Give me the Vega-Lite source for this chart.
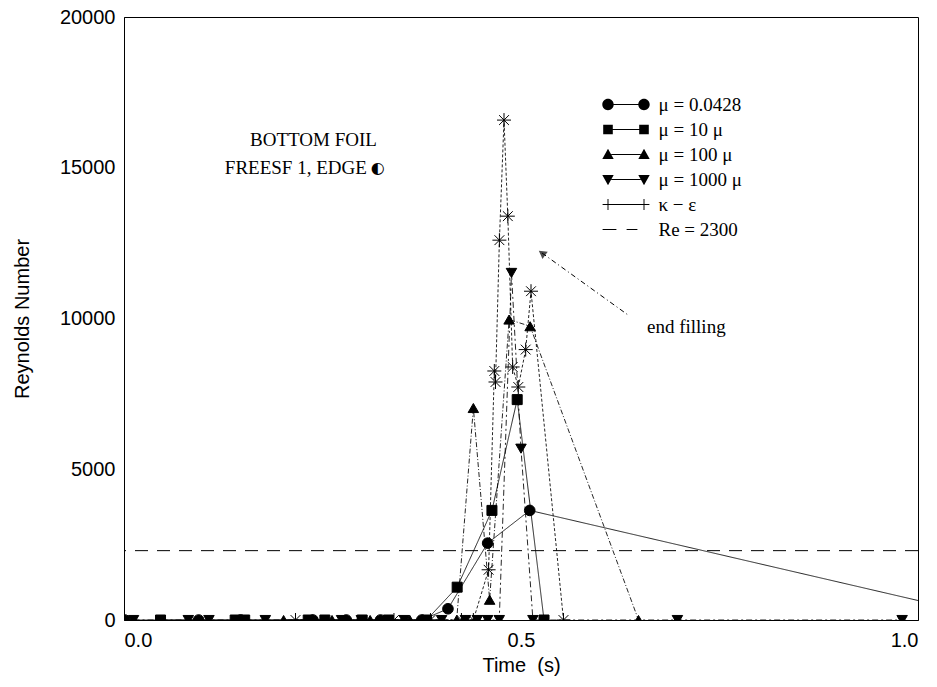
{
  "$schema": "https://vega.github.io/schema/vega-lite/v6.json",
  "width": 794,
  "height": 603,
  "autosize": {"type": "none"},
  "padding": {"left": 124, "top": 17, "right": 19, "bottom": 67},
  "background": "white",
  "config": {
    "view": {"stroke": "black", "strokeWidth": 1},
    "axis": {"grid": false, "domainColor": "black", "domainWidth": 1, "labelFont": "Liberation Sans", "labelFontSize": 20, "labelColor": "black", "titleFont": "Liberation Sans", "titleFontSize": 20, "titleFontWeight": "normal", "titleColor": "black", "ticks": false}
  },
  "resolve": {"scale": {"shape": "independent", "size": "independent"}, "legend": {"shape": "independent"}},
  "datasets": {
    "curves": [
      {"t": 0.001, "Re": 0, "series": "μ = 0.0428"},
      {"t": 0.094, "Re": 0, "series": "μ = 0.0428"},
      {"t": 0.147, "Re": 0, "series": "μ = 0.0428"},
      {"t": 0.238, "Re": 0, "series": "μ = 0.0428"},
      {"t": 0.28, "Re": 0, "series": "μ = 0.0428"},
      {"t": 0.323, "Re": 0, "series": "μ = 0.0428"},
      {"t": 0.375, "Re": 0, "series": "μ = 0.0428"},
      {"t": 0.408, "Re": 372, "series": "μ = 0.0428"},
      {"t": 0.458, "Re": 2549, "series": "μ = 0.0428"},
      {"t": 0.511, "Re": 3635, "series": "μ = 0.0428"},
      {"t": 1.05, "Re": 341, "series": "μ = 0.0428"},
      {"t": 0.046, "Re": 0, "series": "μ = 10 μ"},
      {"t": 0.14, "Re": 0, "series": "μ = 10 μ"},
      {"t": 0.152, "Re": 0, "series": "μ = 10 μ"},
      {"t": 0.232, "Re": 0, "series": "μ = 10 μ"},
      {"t": 0.253, "Re": 0, "series": "μ = 10 μ"},
      {"t": 0.3, "Re": 0, "series": "μ = 10 μ"},
      {"t": 0.333, "Re": 0, "series": "μ = 10 μ"},
      {"t": 0.381, "Re": 0, "series": "μ = 10 μ"},
      {"t": 0.4196, "Re": 1089, "series": "μ = 10 μ"},
      {"t": 0.4634, "Re": 3635, "series": "μ = 10 μ"},
      {"t": 0.4952, "Re": 7310, "series": "μ = 10 μ"},
      {"t": 0.529, "Re": 0, "series": "μ = 10 μ"},
      {"t": 0.201, "Re": 0, "series": "μ = 100 μ"},
      {"t": 0.262, "Re": 0, "series": "μ = 100 μ"},
      {"t": 0.31, "Re": 0, "series": "μ = 100 μ"},
      {"t": 0.36, "Re": 0, "series": "μ = 100 μ"},
      {"t": 0.4, "Re": 0, "series": "μ = 100 μ"},
      {"t": 0.419, "Re": 0, "series": "μ = 100 μ"},
      {"t": 0.44, "Re": 7031, "series": "μ = 100 μ"},
      {"t": 0.4605, "Re": 671, "series": "μ = 100 μ"},
      {"t": 0.485, "Re": 9965, "series": "μ = 100 μ"},
      {"t": 0.5115, "Re": 9743, "series": "μ = 100 μ"},
      {"t": 0.648, "Re": 0, "series": "μ = 100 μ"},
      {"t": 0.012, "Re": 0, "series": "μ = 1000 μ"},
      {"t": 0.081, "Re": 0, "series": "μ = 1000 μ"},
      {"t": 0.107, "Re": 0, "series": "μ = 1000 μ"},
      {"t": 0.178, "Re": 0, "series": "μ = 1000 μ"},
      {"t": 0.274, "Re": 0, "series": "μ = 1000 μ"},
      {"t": 0.299, "Re": 0, "series": "μ = 1000 μ"},
      {"t": 0.353, "Re": 0, "series": "μ = 1000 μ"},
      {"t": 0.4, "Re": 0, "series": "μ = 1000 μ"},
      {"t": 0.43, "Re": 0, "series": "μ = 1000 μ"},
      {"t": 0.445, "Re": 0, "series": "μ = 1000 μ"},
      {"t": 0.458, "Re": 0, "series": "μ = 1000 μ"},
      {"t": 0.4726, "Re": 0, "series": "μ = 1000 μ"},
      {"t": 0.488, "Re": 11512, "series": "μ = 1000 μ"},
      {"t": 0.5, "Re": 5683, "series": "μ = 1000 μ"},
      {"t": 0.515, "Re": 0, "series": "μ = 1000 μ"},
      {"t": 0.697, "Re": 0, "series": "μ = 1000 μ"},
      {"t": 0.98, "Re": 0, "series": "μ = 1000 μ"},
      {"t": 0.216, "Re": 0, "series": "κ − ε"},
      {"t": 0.34, "Re": 0, "series": "κ − ε"},
      {"t": 0.386, "Re": 0, "series": "κ − ε"},
      {"t": 0.425, "Re": 0, "series": "κ − ε"},
      {"t": 0.44, "Re": 0, "series": "κ − ε"},
      {"t": 0.4592, "Re": 1666, "series": "κ − ε"},
      {"t": 0.4664, "Re": 8259, "series": "κ − ε"},
      {"t": 0.4679, "Re": 7894, "series": "κ − ε"},
      {"t": 0.4728, "Re": 12598, "series": "κ − ε"},
      {"t": 0.4786, "Re": 16581, "series": "κ − ε"},
      {"t": 0.4834, "Re": 13394, "series": "κ − ε"},
      {"t": 0.4895, "Re": 8392, "series": "κ − ε"},
      {"t": 0.4966, "Re": 7728, "series": "κ − ε"},
      {"t": 0.5059, "Re": 8969, "series": "κ − ε"},
      {"t": 0.5126, "Re": 10905, "series": "κ − ε"},
      {"t": 0.5535, "Re": 0, "series": "κ − ε"}
    ]
  },
  "layer": [
    {
      "data": {"values": [{}]},
      "mark": {"type": "rule", "color": "black", "strokeWidth": 1, "strokeDash": [13, 9]},
      "encoding": {"y": {"datum": 2300, "type": "quantitative"}}
    },
    {
      "data": {"name": "curves"},
      "mark": {"type": "line", "color": "black", "strokeWidth": 1, "opacity": 0.85, "clip": true},
      "encoding": {
        "x": {"field": "t", "type": "quantitative", "scale": {"domain": [0, 1], "nice": false}, "axis": {"values": [0, 0.5, 1], "format": ".1f", "labelPadding": 10, "title": "Time\u00a0\u00a0(s)", "titlePadding": 5}},
        "y": {"field": "Re", "type": "quantitative", "scale": {"domain": [0, 20000], "nice": false}, "axis": {"values": [0, 5000, 10000, 15000, 20000], "format": "d", "labelPadding": 9, "title": "Reynolds Number", "titlePadding": 27}},
        "detail": {"field": "series", "type": "nominal"},
        "strokeDash": {"field": "series", "type": "nominal", "legend": null, "scale": {"domain": ["μ = 0.0428", "μ = 10 μ", "μ = 100 μ", "μ = 1000 μ", "κ − ε"], "range": [[1, 0], [1, 0], [5, 2, 1, 2], [6, 3, 2, 3], [3, 2]]}}
      }
    },
    {
      "data": {"name": "curves"},
      "mark": {"type": "point", "filled": true, "color": "black", "stroke": "black", "strokeWidth": 1, "opacity": 1, "clip": true},
      "encoding": {
        "x": {"field": "t", "type": "quantitative"},
        "y": {"field": "Re", "type": "quantitative"},
        "size": {"field": "series", "type": "nominal", "legend": null, "scale": {"type": "ordinal", "domain": ["μ = 0.0428", "μ = 10 μ", "μ = 100 μ", "μ = 1000 μ", "κ − ε"], "range": [113, 100, 110, 110, 196]}},
        "shape": {
          "field": "series", "type": "nominal", "legend": null,
          "scale": {"domain": ["μ = 0.0428", "μ = 10 μ", "μ = 100 μ", "μ = 1000 μ", "κ − ε"], "range": ["circle", "square", "triangle-up", "triangle-down", "M-1,0H1M0,-1V1M-0.7,-0.7L0.7,0.7M-0.7,0.7L0.7,-0.7"]}
        }
      }
    },
    {
      "data": {"name": "curves"},
      "transform": [{"filter": "false"}],
      "mark": {"type": "point", "filled": true, "color": "black"},
      "encoding": {
        "x": {"field": "t", "type": "quantitative"},
        "y": {"field": "Re", "type": "quantitative"},
        "shape": {
          "field": "series", "type": "nominal",
          "scale": {"domain": ["μ = 0.0428", "μ = 10 μ", "μ = 100 μ", "μ = 1000 μ", "κ − ε", "Re = 2300"], "range": [
            "M-3.95,0A0.95,0.95 0 1,0 -2.05,0A0.95,0.95 0 1,0 -3.95,0Z M2.05,0A0.95,0.95 0 1,0 3.95,0A0.95,0.95 0 1,0 2.05,0Z M-2.05,-0.08H2.05V0.08H-2.05Z",
            "M-3.8,-0.8H-2.2V0.8H-3.8Z M2.2,-0.8H3.8V0.8H2.2Z M-2.2,-0.08H2.2V0.08H-2.2Z",
            "M-3,-0.95L-2.05,0.75L-3.95,0.75Z M3,-0.95L3.95,0.75L2.05,0.75Z M-2.45,-0.08H2.45V0.08H-2.45Z",
            "M-3,0.95L-2.05,-0.75L-3.95,-0.75Z M3,0.95L3.95,-0.75L2.05,-0.75Z M-2.45,-0.08H2.45V0.08H-2.45Z",
            "M-3.9,-0.08H3.9V0.08H-3.9Z M-3.08,-0.9H-2.92V-0.08H-3.08Z M-3.08,0.08H-2.92V0.9H-3.08Z M2.92,-0.9H3.08V-0.08H2.92Z M2.92,0.08H3.08V0.9H2.92Z",
            "M-3.9,-0.08H-1.6V0.08H-3.9Z M0.1,-0.08H1.9V0.08H0.1Z"
          ]},
          "legend": {
            "orient": "none", "legendX": 492.5, "legendY": 78, "title": null, "padding": 0,
            "symbolSize": 144, "labelOffset": 23, "rowPadding": 5,
            "labelFont": "Liberation Serif", "labelFontSize": 19, "labelColor": "black",
            "symbolFillColor": "black", "symbolStrokeColor": "transparent", "symbolStrokeWidth": 0, "symbolOpacity": 1
          }
        }
      }
    },
    {
      "data": {"values": [{}]},
      "mark": {"type": "rule", "color": "black", "strokeWidth": 1, "strokeDash": [5, 3, 1, 3]},
      "encoding": {"x": {"datum": 0.5264, "type": "quantitative"}, "y": {"datum": 12173, "type": "quantitative"}, "x2": {"datum": 0.6348}, "y2": {"datum": 10117}}
    },
    {
      "data": {"values": [{}]},
      "mark": {"type": "point", "shape": "triangle-up", "filled": true, "color": "black", "size": 80, "angle": 306},
      "encoding": {"x": {"datum": 0.5264, "type": "quantitative"}, "y": {"datum": 12173, "type": "quantitative"}}
    },
    {
      "data": {"values": [{}]},
      "mark": {"type": "text", "text": "end filling", "font": "Liberation Serif", "fontSize": 19, "align": "left", "baseline": "middle", "color": "black"},
      "encoding": {"x": {"datum": 0.6587, "type": "quantitative"}, "y": {"datum": 9718, "type": "quantitative"}}
    },
    {
      "data": {"values": [{}]},
      "mark": {"type": "text", "text": "BOTTOM FOIL", "font": "Liberation Serif", "fontSize": 19, "align": "left", "baseline": "middle", "color": "black"},
      "encoding": {"x": {"datum": 0.1587, "type": "quantitative"}, "y": {"datum": 15920, "type": "quantitative"}}
    },
    {
      "data": {"values": [{}]},
      "mark": {"type": "text", "text": "FREESF 1, EDGE", "font": "Liberation Serif", "fontSize": 19, "align": "left", "baseline": "middle", "color": "black"},
      "encoding": {"x": {"datum": 0.127, "type": "quantitative"}, "y": {"datum": 14993, "type": "quantitative"}}
    },
    {
      "data": {"values": [{}]},
      "mark": {"type": "text", "text": "◐", "font": "DejaVu Sans", "fontSize": 16, "fontWeight": "bold", "align": "center", "baseline": "middle", "color": "black"},
      "encoding": {"x": {"datum": 0.3195, "type": "quantitative"}, "y": {"datum": 14993, "type": "quantitative"}}
    }
  ]
}
